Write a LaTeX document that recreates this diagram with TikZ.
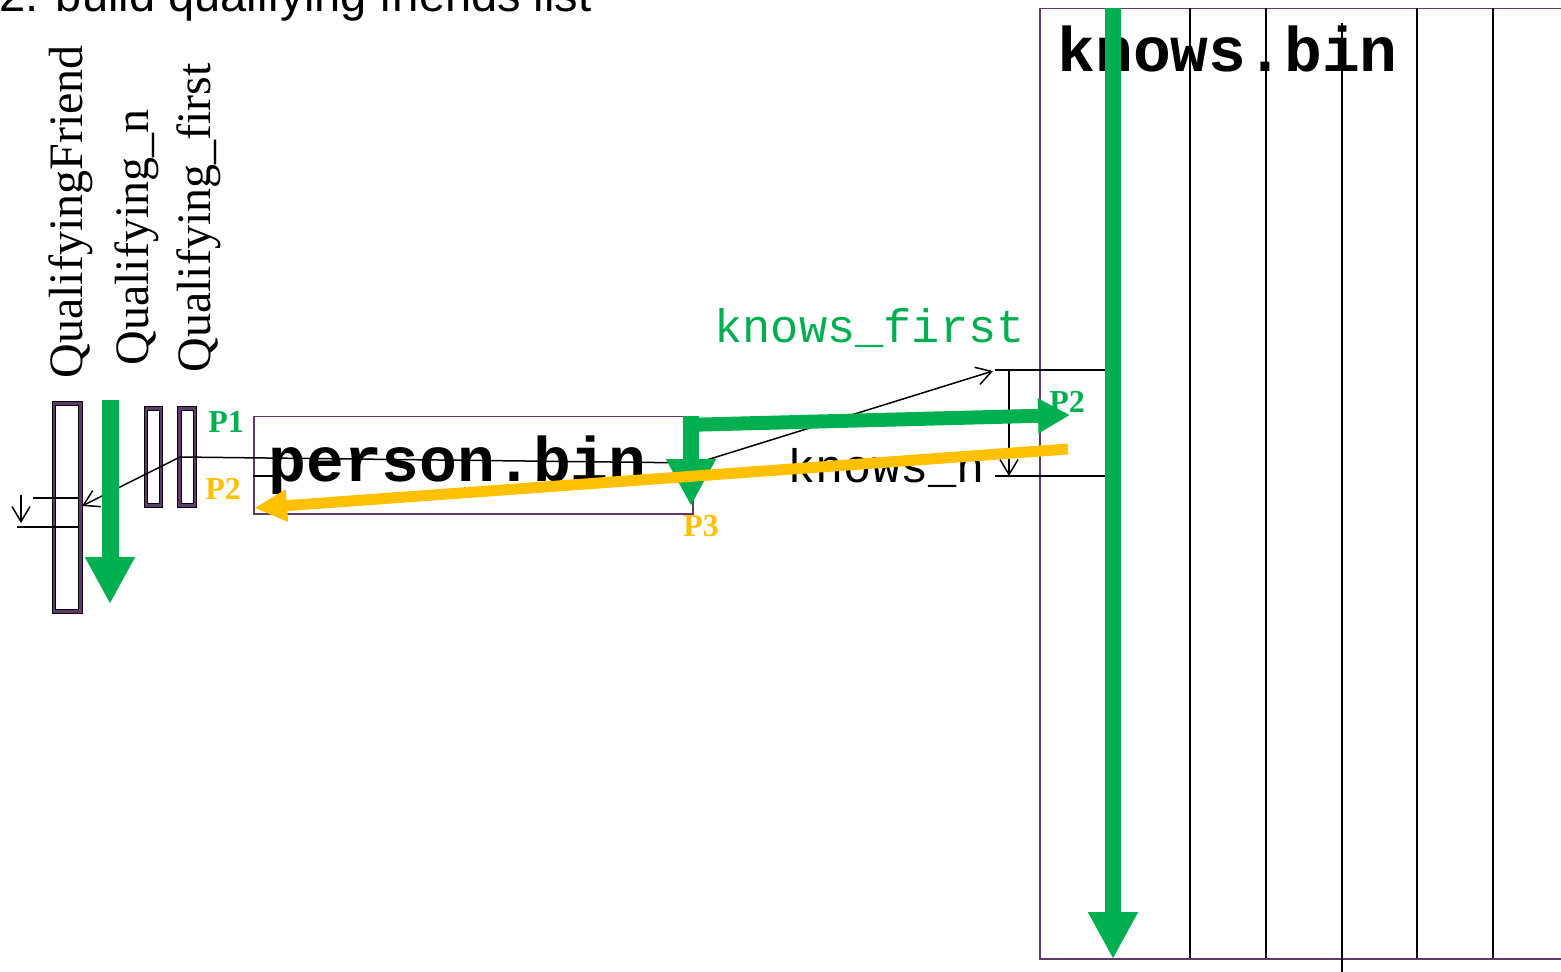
\documentclass[tikz,border=0pt]{standalone}
\usepackage{fontspec}
\setmainfont{Liberation Serif}
\newfontfamily\titlefont{Liberation Sans}
\newfontfamily\codefont{Liberation Mono}
\usetikzlibrary{arrows.meta}
\definecolor{okgreen}{RGB}{0,176,80}
\definecolor{gold}{RGB}{255,192,0}
\definecolor{plum}{RGB}{96,58,108}

\begin{document}
\begin{tikzpicture}[x=0.5pt,y=-0.5pt,
  fileframe/.style={draw=plum, line width=0.75pt, inner sep=0pt, anchor=north west},
  slotbox/.style={draw=black, line width=0.45pt, double=plum, double distance=1.4pt,
                  inner sep=0pt, anchor=north west},
  rule/.style={draw=black, line width=0.75pt},
  ptr/.style={rule, -{Straight Barb[length=7.5pt,width=9pt]}},
  flow/.style={draw=okgreen, line width=8pt, -{Triangle[length=23.5pt,width=23.5pt]}},
  back/.style={draw=gold, line width=5.5pt, -{Triangle[length=16.5pt,width=15pt]}},
  vlabel/.style={rotate=90, anchor=base west, inner sep=0pt,
                 font=\fontsize{24pt}{28pt}\selectfont},
  plabel/.style={anchor=base west, inner sep=0pt,
                 font=\fontsize{16pt}{19pt}\selectfont\bfseries},
  filelabel/.style={anchor=base west, inner sep=0pt,
                 font=\codefont\bfseries\fontsize{31.5pt}{36pt}\selectfont},
  fieldlabel/.style={anchor=base west, inner sep=0pt,
                 font=\codefont\fontsize{23.5pt}{28pt}\selectfont},
]
\useasboundingbox (0,0) rectangle (1561,972);
\clip (0,0) rectangle (1561,972);

% heading
\node[anchor=base west, inner sep=0pt, font=\titlefont\fontsize{23.5pt}{28pt}\selectfont]
  (title) at (-1,12) {2. build qualifying friends list};

% result arrays
\node[slotbox, minimum width=13.25pt, minimum height=104pt] (qf) at (53.5,403) {};
\node[slotbox, minimum width=7.5pt, minimum height=48.5pt] (qn) at (145.5,408) {};
\node[slotbox, minimum width=7.75pt, minimum height=48.5pt] (qfirst) at (179,408) {};
\node[vlabel] (qflabel) at (82,379) {QualifyingFriend};
\node[vlabel] (qnlabel) at (148,366) {Qualifying\_n};
\node[vlabel] (qfirstlabel) at (210,373) {Qualifying\_first};

% files
\node[fileframe, minimum width=219.5pt, minimum height=48.5pt] (person) at (253,416) {};
\node[fileframe, minimum width=290.5pt, minimum height=475pt] (knows) at (1039,8) {};
\foreach \cx in {1190,1266,1417,1493}
  \draw[rule] (\cx,8) -- (\cx,958);
\draw[rule] (1342,23) -- (1342,975);

% rows inside the files and arrays
\coordinate (kfirst) at (995,370);
\coordinate (kfirstend) at (1113,370);
\coordinate (klast) at (995,476);
\coordinate (klastend) at (1113,476);
\draw[rule] (kfirst) -- (kfirstend);
\draw[rule] (klast) -- (klastend);
\draw[ptr] (1009,370) -- (1009,476);

\coordinate (prow) at (253,476);
\coordinate (prowend) at (277,476);
\draw[rule] (prow) -- (prowend);

\coordinate (qrowa) at (33,498);
\coordinate (qrowaend) at (78,498);
\coordinate (qrowb) at (17,527);
\coordinate (qrowbend) at (78,527);
\draw[rule] (qrowa) -- (qrowaend);
\draw[rule] (qrowb) -- (qrowbend);
\draw[ptr] (21,495) -- (21,523);

% pointers
\coordinate (qsrc) at (180,457);
\coordinate (qdst) at (82,506);
\coordinate (pbend) at (697,463);
\coordinate (kdst) at (993,371);
\draw[ptr] (qsrc) -- (qdst);
\draw[ptr] (qsrc) -- (pbend) -- (kdst);

% texts
\node[filelabel] (personname) at (268,481) {person.bin};
\node[filelabel] (knowsname) at (1057,72) {knows.bin};
\node[fieldlabel, text=okgreen] (kfirstlabel) at (714,343) {knows\_first};
\node[fieldlabel] (knlabel) at (787,482) {knows\_n};

\node[plabel, text=okgreen] (p1) at (208,433) {P1};
\node[plabel, text=gold] (p2a) at (205,499) {P2};
\node[plabel, text=gold] (p3) at (683,536) {P3};
\node[plabel, text=okgreen] (p2b) at (1049,413) {P2};

% scan order
\coordinate (ksrc) at (1113,8);
\coordinate (ktip) at (1113,959);
\draw[flow] (ksrc) -- (ktip);
\coordinate (qsrc2) at (110,400);
\coordinate (qtip) at (110,604);
\draw[flow, line width=8.5pt] (qsrc2) -- (qtip);
\coordinate (corner) at (691,416);
\coordinate (ptip) at (691,506);
\draw[flow] (corner) -- (ptip);
\coordinate (hstart) at (683,425);
\coordinate (htip) at (1070,415);
\draw[draw=okgreen, line width=7pt, -{Triangle[length=16pt,width=16.5pt]}] (hstart) -- (htip);
\coordinate (ystart) at (1068,449);
\coordinate (ytip) at (254,508);
\draw[back] (ystart) -- (ytip);
\end{tikzpicture}
\end{document}
